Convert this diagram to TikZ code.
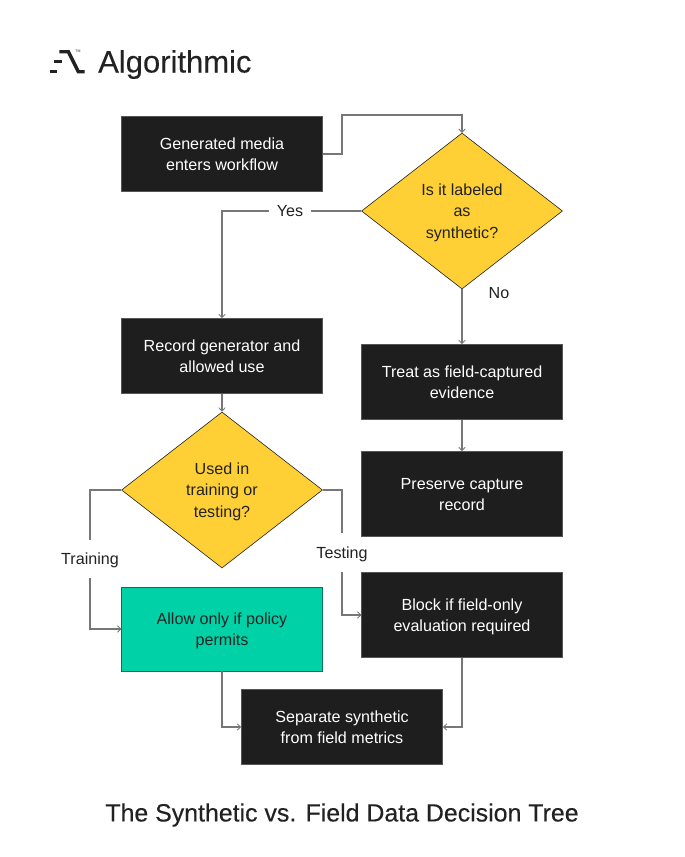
\documentclass[tikz,border=0pt]{standalone}
\usepackage{fontspec}
\setmainfont{Liberation Sans}
\usetikzlibrary{arrows.meta,shapes.geometric}
\definecolor{boxdark}{HTML}{1E1E1E}
\definecolor{amber}{HTML}{FFD035}
\definecolor{teal}{HTML}{00D1A7}
\definecolor{ink}{HTML}{222222}
\definecolor{linegray}{HTML}{777777}
\newcommand{\firstln}{\rule{0pt}{18pt}}
\newcommand{\lblln}{\rule[-5.4pt]{0pt}{22.2pt}}
\tikzset{
  x=1pt,y=-1pt,
  basebox/.style={rectangle,inner sep=0pt,align=center,font=\fontsize{16.1}{21.3}\selectfont},
  darkbox/.style={basebox,fill=boxdark,draw=boxdark!75!white,line width=.6pt,text=white},
  tealbox/.style={basebox,fill=teal,draw=teal!55!black,line width=.6pt,text=ink},
  choice/.style={diamond,aspect=1.29,inner sep=0pt,align=center,fill=amber,draw=ink,line width=.6pt,text=ink,font=\fontsize{16.1}{21.3}\selectfont},
  conn/.style={draw=linegray,line width=1.05pt,-{Straight Barb[length=3.5pt,width=6.5pt,line width=.8pt]}},
  plainconn/.style={draw=linegray,line width=1.05pt},
  lbl/.style={inner sep=0pt,text=ink,font=\fontsize{16.1}{18}\selectfont},
}
\begin{document}
\begin{tikzpicture}
\useasboundingbox (0,0) rectangle (685,857);
\fill[white] (0,0) rectangle (685,857);
% logo
\fill[ink] (50,70) rectangle (57.3,73.4);
\fill[ink] (54,60) rectangle (61.7,63.4);
\fill[ink] (59.3,50) -- (69.5,50) -- (79.5,70) -- (84.5,70) -- (84.5,73.4) -- (77.3,73.4) -- (67.3,53.4) -- (59.3,53.4) -- cycle;
\node[inner sep=0pt,font=\fontsize{3.5}{3.5}\selectfont,text=ink] (tm) at (78,51.2) {TM};
\node[inner sep=0pt,anchor=west,text=ink,font=\fontsize{31}{31}\selectfont] (brand) at (98,64.5) {\addfontfeature{FakeBold=0.15}Algorithmic};
% boxes
\node[darkbox,minimum width=201pt,minimum height=75pt] (gen) at (222,154) {\firstln Generated media\\\strut enters workflow};
\node[choice,minimum width=201pt,minimum height=156pt] (lab) at (462,211) {\firstln Is it labeled\\\strut as\\\strut synthetic?};
\node[darkbox,minimum width=201pt,minimum height=75pt] (rec) at (222,356) {\firstln Record generator and\\\strut allowed use};
\node[darkbox,minimum width=201pt,minimum height=75pt] (treat) at (462,382) {\firstln Treat as field-captured\\\strut evidence};
\node[choice,minimum width=201pt,minimum height=156pt] (used) at (222,490) {\firstln Used in\\\strut training or\\\strut testing?};
\node[darkbox,minimum width=201pt,minimum height=85pt] (pres) at (462,494) {\firstln Preserve capture\\\strut record};
\node[tealbox,minimum width=201pt,minimum height=84pt] (allow) at (222,629) {\firstln Allow only if policy\\\strut permits};
\node[darkbox,minimum width=201pt,minimum height=85pt] (block) at (462,615) {\firstln Block if field-only\\\strut evaluation required};
\node[darkbox,minimum width=201pt,minimum height=75pt] (sep) at (342,727) {\firstln Separate synthetic\\\strut from field metrics};
% labels
\node[lbl,outer xsep=8pt] (yes) at (290,211) {\lblln Yes};
\node[lbl] (no) at (499,293) {\lblln No};
\node[lbl,minimum height=37.5pt] (training) at (90,559.25) {\lblln Training};
\node[lbl,minimum height=38.5pt] (testing) at (342,552.75) {\lblln Testing};
\coordinate (genout) at (322.5,154);
\coordinate (labin) at (462,133);
\coordinate (allowin) at (121.5,629);
\coordinate (blockin) at (361.5,615);
\coordinate (a1) at (342,154);
\coordinate (a2) at (342,115);
\coordinate (a3) at (462,115);
\coordinate (b1) at (222,211);
\coordinate (c1) at (90,490);
\coordinate (c2) at (90,629);
\coordinate (d1) at (342,490);
\coordinate (d2) at (342,615);
\coordinate (e1) at (222,727);
\coordinate (e2) at (462,727);
% connectors
\draw[conn] (genout) -- (a1) -- (a2) -- (a3) -- (labin);
\draw[plainconn] (lab.west) -- (yes.east);
\draw[conn] (yes.west) -- (b1) -- (rec.north);
\draw[conn] (lab.south) -- (treat.north);
\draw[conn] (rec.south) -- (used.north);
\draw[conn] (treat.south) -- (pres.north);
\draw[plainconn] (used.west) -- (c1) -- (training.north);
\draw[conn] (training.south) -- (c2) -- (allowin);
\draw[plainconn] (used.east) -- (d1) -- (testing.north);
\draw[conn] (testing.south) -- (d2) -- (blockin);
\draw[conn] (allow.south) -- (e1) -- (sep.west);
\draw[conn] (block.south) -- (e2) -- (sep.east);
% title
\node[inner sep=0pt,text=ink,font=\fontsize{24.9}{28}\selectfont] (title) at (342,815) {\addfontfeature{FakeBold=0.3}The Synthetic vs. Field Data Decision Tree};
\end{tikzpicture}
\end{document}
